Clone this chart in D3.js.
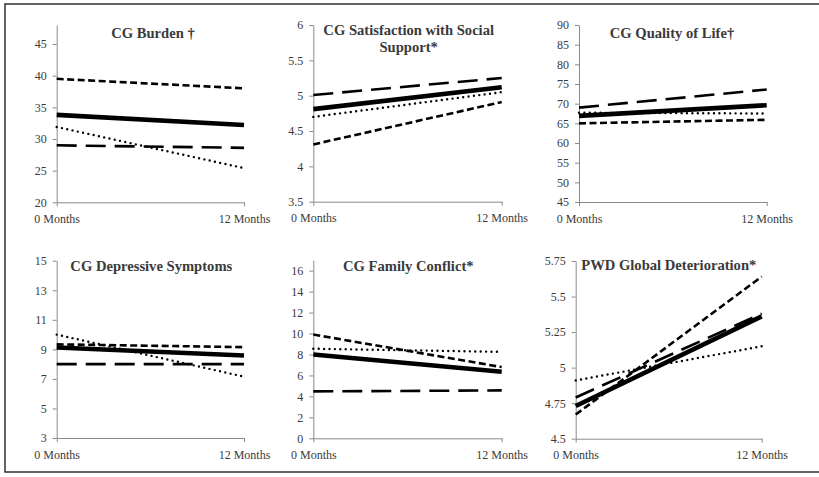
<!DOCTYPE html>
<html>
<head>
<meta charset="utf-8">
<script src="https://cdn.jsdelivr.net/npm/d3@7"></script>
<style>
  html, body { margin: 0; padding: 0; background: #fff; }
  svg { display: block; }
  svg text { font-family: "Liberation Serif", "DejaVu Serif", serif !important; }
</style>
</head>
<body>
<svg id="chart" width="819" height="477"></svg>
<script>
// ---------- DATA ----------
const timepoints = ["0 Months", "12 Months"];

const panelTitles = [
  ["CG Burden \u2020"],
  ["CG Satisfaction with Social", "Support*"],
  ["CG Quality of Life\u2020"],
  ["CG Depressive Symptoms"],
  ["CG Family Conflict*"],
  ["PWD Global Deterioration*"]
];

const yDomains = [[20, 48], [3.5, 6], [45, 90], [3, 15], [0, 17], [4.5, 5.75]];

const yTickValues = [
  [20, 25, 30, 35, 40, 45],
  [3.5, 4, 4.5, 5, 5.5, 6],
  [45, 50, 55, 60, 65, 70, 75, 80, 85, 90],
  [3, 5, 7, 9, 11, 13, 15],
  [0, 2, 4, 6, 8, 10, 12, 14, 16],
  [4.5, 4.75, 5, 5.25, 5.5, 5.75]
];

// series values per panel: [0 Months, 12 Months]
const solidSeries     = [[33.8, 32.2], [4.81, 5.12], [66.9, 69.6], [9.12, 8.58], [8.0, 6.35], [4.73, 5.36]];
const longDashSeries  = [[29.0, 28.6], [5.01, 5.25], [69.0, 73.6], [8.0, 8.0],   [4.48, 4.57], [4.79, 5.38]];
const shortDashSeries = [[39.5, 38.0], [4.31, 4.91], [65.0, 65.9], [9.34, 9.15], [9.9, 6.8],  [4.67, 5.64]];
const dottedSeries    = [[31.9, 25.4], [4.70, 5.05], [67.7, 67.5], [10.0, 7.15], [8.55, 8.25], [4.91, 5.15]];

// ---------- LAYOUT ----------
const layout = [
  { x0: 56.7,  x1: 244,   yBot: 202.3, yTop: 25,    tx: 153,   ty: 38 },
  { x0: 313.3, x1: 501.7, yBot: 201.7, yTop: 25,    tx: 408.7, ty: 35 },
  { x0: 579,   x1: 766.7, yBot: 202,   yTop: 25,    tx: 672,   ty: 38 },
  { x0: 56.7,  x1: 244,   yBot: 438,   yTop: 260.7, tx: 151.3, ty: 271 },
  { x0: 313.3, x1: 501.7, yBot: 438.3, yTop: 260.2, tx: 408.3, ty: 271 },
  { x0: 575.7, x1: 761.7, yBot: 438.7, yTop: 261,   tx: 668.8, ty: 270 }
];

const styles = [
  { data: longDashSeries,  width: 2.6, dash: "20,9",  cap: "butt" },
  { data: shortDashSeries, width: 2.6, dash: "7,3.5", cap: "butt" },
  { data: dottedSeries,    width: 2.4, dash: "0,5.4", cap: "round" },
  { data: solidSeries,     width: 4.6, dash: null,    cap: "butt" }
];

const svg = d3.select("#chart");
const FONT = "Liberation Serif";
const AXIS_COLOR = "#8a8a8a";
const TEXT_COLOR = "#3a3a3a";

// outer border
svg.append("rect")
  .attr("x", 5).attr("y", 4)
  .attr("width", 830).attr("height", 468)
  .attr("fill", "none")
  .attr("stroke", "#222")
  .attr("stroke-width", 1.4);

layout.forEach((L, i) => {
  const g = svg.append("g");
  const x = d3.scalePoint().domain(timepoints).range([L.x0, L.x1]).padding(0);
  const y = d3.scaleLinear().domain(yDomains[i]).range([L.yBot, L.yTop]);

  // y axis
  const yAxis = g.append("g")
    .attr("transform", `translate(${L.x0},0)`)
    .call(d3.axisLeft(y).tickValues(yTickValues[i]).tickSize(4).tickPadding(6)
      .tickFormat(d => String(d)).tickSizeOuter(0));
  // x axis
  const xAxis = g.append("g")
    .attr("transform", `translate(0,${L.yBot})`)
    .call(d3.axisBottom(x).tickSize(4).tickPadding(8).tickSizeOuter(0));

  [yAxis, xAxis].forEach(a => {
    a.attr("font-family", FONT).attr("font-size", 12);
    a.select(".domain").attr("stroke", AXIS_COLOR).attr("stroke-width", 1);
    a.selectAll(".tick line").attr("stroke", AXIS_COLOR).attr("stroke-width", 1);
    a.selectAll(".tick text").attr("fill", TEXT_COLOR);
  });

  // lines
  const line = d3.line().x((d, k) => x(timepoints[k])).y(d => y(d));
  styles.forEach(s => {
    g.append("path")
      .datum(s.data[i])
      .attr("d", line)
      .attr("fill", "none")
      .attr("stroke", "#000")
      .attr("stroke-width", s.width)
      .attr("stroke-linecap", s.cap)
      .attr("stroke-dasharray", s.dash);
  });

  // title
  const t = g.append("text")
    .attr("x", L.tx).attr("y", L.ty)
    .attr("text-anchor", "middle")
    .attr("fill", TEXT_COLOR)
    .attr("font-family", FONT)
    .attr("font-size", 14.6)
    .attr("font-weight", "bold");
  panelTitles[i].forEach((ln, k) => {
    t.append("tspan").attr("x", L.tx).attr("dy", k === 0 ? 0 : 16.5).text(ln);
  });
});
</script>
</body>
</html>
